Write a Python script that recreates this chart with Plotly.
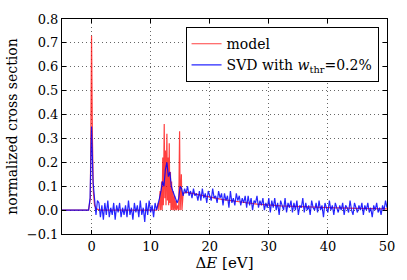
import numpy as np
import plotly.graph_objects as go

# ---------------- data ----------------
# model (red): energy points and normalized cross section
model_E = [-5.0, -0.5, -0.2, 0.0, 0.15, 0.3, 0.5, 0.8, 1.5, 11.0,
           11.3, 11.4, 11.6, 11.7, 11.85, 11.95, 12.05, 12.15, 12.3, 12.4,
           12.5, 12.6, 12.75, 12.85, 12.95, 13.05, 13.15, 13.25, 13.35, 13.45,
           13.55, 13.65, 13.8, 13.9, 14.05, 14.15, 14.3, 14.4, 14.6, 14.75,
           14.9, 15.0, 15.2, 15.3, 15.5, 16.0, 17.0, 18.0, 20.0, 22.0,
           25.0, 28.0, 32.0, 36.0, 40.0, 45.0, 50.0]
model_y = [0.0, 0.0, 0.05, 0.73, 0.30, 0.08, 0.02, 0.005, 0.0, 0.0,
           0.03, 0.0, 0.08, 0.0, 0.12, 0.0, 0.22, 0.02, 0.36, 0.05,
           0.25, 0.02, 0.32, 0.04, 0.22, 0.02, 0.28, 0.03, 0.16, 0.0,
           0.12, 0.0, 0.08, 0.0, 0.06, 0.0, 0.04, 0.0, 0.02, 0.0,
           0.33, 0.0, 0.15, 0.0, 0.07, 0.075, 0.07, 0.065, 0.055, 0.045,
           0.035, 0.025, 0.018, 0.013, 0.010, 0.007, 0.005]

# SVD reconstruction (blue)
svd_E_lead = [-5.0, -0.5]
svd_y_lead = [0.0, 0.0]
svd_step = 0.25
svd_E_start = -0.25
svd_y = [
    # -0.25 .. 1.0
    0.05, 0.35, 0.12, 0.05, -0.02, 0.04,
    # 1.25 .. 11.0
    0.03, -0.03, 0.02, -0.04, 0.03, -0.02, 0.04, -0.03, 0.01, -0.02,
    0.03, -0.04, 0.02, -0.01, 0.03, -0.03, 0.01, -0.02, 0.02, -0.03,
    0.04, -0.02, 0.01, -0.04, 0.03, -0.01, 0.02, -0.03, 0.04, -0.02,
    0.01, -0.05, 0.03, -0.02, 0.04, -0.01, 0.02, -0.03, 0.03, 0.0,
    # 11.25 .. 18.25
    0.02, 0.05, 0.08, 0.12, 0.10, 0.17, 0.20, 0.14, 0.16, 0.10,
    0.08, 0.06, 0.04, 0.03, 0.05, 0.10, 0.09, 0.06, 0.09, 0.07,
    0.10, 0.06, 0.08, 0.05, 0.09, 0.06, 0.07, 0.04, 0.08,
    # 18.5 .. 22.0
    0.04, 0.09, 0.05, 0.07, 0.03, 0.08, 0.06, 0.04, 0.09, 0.05,
    0.06, 0.03, 0.08, 0.05, 0.07,
    # 22.25 .. 26.0
    0.02, 0.07, 0.04, 0.06, 0.01, 0.08, 0.03, 0.05, 0.02, 0.07,
    0.04, 0.06, 0.02, 0.05, 0.03, 0.06,
    # 26.25 .. 30.0
    0.01, 0.06, 0.02, 0.05, 0.00, 0.04, 0.03, 0.06, 0.01, 0.04,
    0.02, 0.05, 0.00, 0.03, 0.01, 0.05,
    # 30.25 .. 34.0
    -0.01, 0.04, 0.01, 0.05, 0.00, 0.03, -0.02, 0.04, 0.02, 0.00,
    0.05, -0.01, 0.03, 0.01, 0.04, -0.01,
    # 34.25 .. 38.0
    0.03, 0.00, 0.04, -0.02, 0.02, 0.01, 0.05, -0.01, 0.03, 0.00,
    0.02, -0.02, 0.04, 0.01, 0.00, 0.03,
    # 38.25 .. 42.0
    -0.01, 0.04, 0.00, 0.02, -0.03, 0.03, 0.01, -0.01, 0.04, 0.00,
    0.02, -0.02, 0.03, 0.01, -0.01, 0.02,
    # 42.25 .. 46.0
    0.00, 0.03, -0.02, 0.02, 0.01, -0.01, 0.04, 0.00, -0.02, 0.03,
    0.01, -0.01, 0.02, 0.00, 0.03, -0.02,
    # 46.25 .. 50.0
    0.02, 0.00, 0.03, -0.01, 0.01, -0.03, 0.02, 0.00, 0.03, -0.01,
    0.01, -0.02, 0.02, 0.00, 0.04, 0.01,
]

x_ticks = [0, 10, 20, 30, 40, 50]
y_ticks = [-0.1, 0.0, 0.1, 0.2, 0.3, 0.4, 0.5, 0.6, 0.7, 0.8]
y_ticklabels = ["\u22120.1", "0.0", "0.1", "0.2", "0.3", "0.4", "0.5", "0.6", "0.7", "0.8"]

# ---------------- figure ----------------
svd_E = svd_E_lead + [round(svd_E_start + i * svd_step, 4) for i in range(len(svd_y))]
svd_all = svd_y_lead + svd_y

FONT = "DejaVu Serif"

fig = go.Figure()
fig.add_trace(go.Scatter(x=model_E, y=model_y, mode="lines", name="model",
                         line=dict(color="rgba(255,0,0,0.75)", width=1.2)))
fig.add_trace(go.Scatter(x=svd_E, y=svd_all, mode="lines",
                         name="SVD with <i>w</i><sub>thr</sub>=0.2%",
                         line=dict(color="rgba(0,0,255,0.85)", width=1.2)))

axis_common = dict(showline=True, linecolor="black", linewidth=1, mirror="ticks",
                   ticks="inside", ticklen=4, tickcolor="black",
                   showgrid=True, gridcolor="rgba(0,0,0,0.6)", griddash="1px,3px", gridwidth=1,
                   zeroline=False, tickfont=dict(family=FONT, size=13, color="black"))

fig.update_xaxes(range=[-5, 50], tickvals=x_ticks, ticktext=[str(v) for v in x_ticks],
                 title=dict(text="\u0394<i>E</i> [eV]", font=dict(family=FONT, size=15, color="black"),
                            standoff=4),
                 **axis_common)
fig.update_yaxes(range=[-0.1, 0.8], tickvals=y_ticks, ticktext=y_ticklabels,
                 title=dict(text="normalized cross section", font=dict(family=FONT, size=14, color="black"),
                            standoff=5),
                 **axis_common)

fig.update_layout(
    width=407, height=280,
    margin=dict(l=60, r=15, t=13, b=45),
    paper_bgcolor="white", plot_bgcolor="white",
    font=dict(family=FONT, size=13, color="black"),
    showlegend=True,
    legend=dict(x=0.974, y=0.962, xanchor="right", yanchor="top",
                bgcolor="white", bordercolor="black", borderwidth=1,
                font=dict(family=FONT, size=14, color="black"),
                tracegroupgap=0),
)

fig.write_html("out.html", config={"displayModeBar": False},
               post_script="document.body.style.margin='0';document.body.style.overflow='hidden';")
